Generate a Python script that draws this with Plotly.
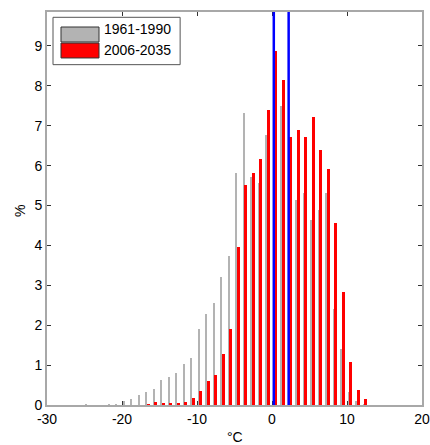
import numpy as np
import plotly.graph_objects as go

# Temperature bins (lower edge of 1 degC bins)
bins = list(range(-25, 13))
# 1961-1990 frequencies (%)
gray_vals = [0.03, 0, 0, 0.02, 0.03, 0.11, 0.14, 0.26, 0.33, 0.39,
             0.63, 0.69, 0.80, 1.02, 1.19, 1.90, 2.28, 2.55, 3.20, 3.73,
             5.82, 7.33, 5.71, 5.57, 6.76, 6.60, 7.49, 5.84, 5.15, 5.32,
             4.64, 4.89, 5.31, 2.40, 1.41, 0.33, 0.11, 0.02]
# 2006-2035 frequencies (%)
red_vals = [0, 0, 0, 0, 0, 0, 0, 0, 0.03, 0.08,
            0.04, 0.05, 0.05, 0.08, 0.18, 0.34, 0.60, 0.74, 1.27, 1.90,
            3.97, 5.52, 5.82, 6.16, 7.39, 8.87, 8.14, 6.72, 6.90, 6.72,
            7.23, 6.38, 5.91, 4.55, 2.82, 1.08, 0.38, 0.14]
series_names = ["1961-1990", "2006-2035"]
mean_lines = [0.24, 2.22]
x_ticks = [-30, -20, -10, 0, 10, 20]
y_ticks = list(range(0, 10))
x_title = "°C"
y_title = "%"

b = np.array(bins, dtype=float)
FONT = "Liberation Sans"
GRAY = "#b3b3b3"
RED = "#ff0000"

fig = go.Figure()
fig.add_trace(go.Bar(x=b + 0.22, y=gray_vals, width=0.28, marker=dict(color=GRAY, line=dict(width=0)),
                     name=series_names[0], showlegend=False))
fig.add_trace(go.Bar(x=b + 0.5, y=red_vals, width=0.38, marker=dict(color=RED, line=dict(width=0)),
                     name=series_names[1], showlegend=False))

for xv in mean_lines:
    fig.add_shape(type="line", x0=xv, x1=xv, y0=0, y1=1, xref="x", yref="paper",
                  line=dict(color="#0000ff", width=2.5), layer="above")

# legend drawn manually (MATLAB style)
fig.add_shape(type="rect", xref="paper", yref="paper", x0=0.016, x1=0.355, y0=0.866, y1=0.9865,
              line=dict(color="#555555", width=1), fillcolor="white", layer="above")
fig.add_shape(type="rect", xref="paper", yref="paper", x0=0.0373, x1=0.1387, y0=0.9237, y1=0.9618,
              line=dict(color="#333333", width=1), fillcolor=GRAY, layer="above")
fig.add_shape(type="rect", xref="paper", yref="paper", x0=0.0373, x1=0.1387, y0=0.883, y1=0.921,
              line=dict(color="#333333", width=1), fillcolor=RED, layer="above")
for name, yv in zip(series_names, [0.9555, 0.9033]):
    fig.add_annotation(text=name, xref="paper", yref="paper", x=0.147, y=yv, xanchor="left",
                       yanchor="middle", showarrow=False, font=dict(family=FONT, size=14, color="black"))

# axis titles
fig.add_annotation(text=x_title, xref="paper", yref="paper", x=0.5, y=-0.081, xanchor="center",
                   yanchor="middle", showarrow=False, font=dict(family=FONT, size=14, color="black"))
fig.add_annotation(text=y_title, xref="paper", yref="paper", x=-0.072, y=0.4936, xanchor="center",
                   yanchor="middle", textangle=-90, showarrow=False,
                   font=dict(family=FONT, size=14, color="black"))

axis_common = dict(showline=True, linecolor="#a8a8a8", linewidth=2, mirror="ticks", ticks="inside",
                   ticklen=4, tickcolor="#333333", showgrid=False, zeroline=False, automargin=False,
                   tickfont=dict(family=FONT, size=14, color="black"))
fig.update_xaxes(range=[-30, 20], tickvals=x_ticks, ticktext=[str(t) for t in x_ticks], **axis_common)
fig.update_yaxes(range=[0, 9.85], tickvals=y_ticks, ticktext=[str(t) for t in y_ticks], **axis_common)
fig.update_layout(width=430, height=445, margin=dict(l=47, r=8, t=12, b=40),
                  plot_bgcolor="white", paper_bgcolor="white", barmode="overlay", bargap=0)
fig.write_html("out.html", config={"displayModeBar": False, "staticPlot": True},
               post_script="document.body.style.margin='0';document.body.style.overflow='hidden';")
